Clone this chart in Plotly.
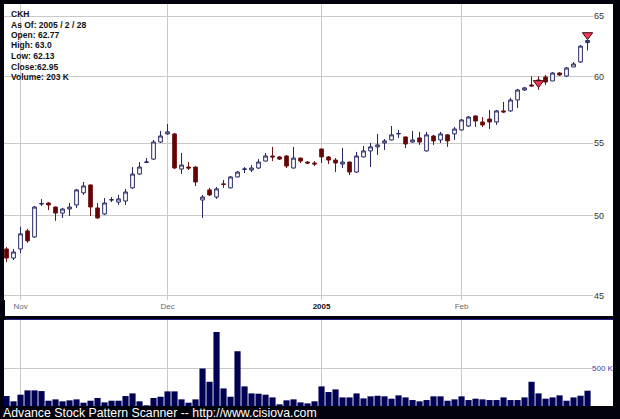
import plotly.graph_objects as go

# ---------------- data ----------------
dates = [
    "2004-10-28", "2004-10-29",
    "2004-11-01", "2004-11-02", "2004-11-03", "2004-11-04", "2004-11-05",
    "2004-11-08", "2004-11-09", "2004-11-10", "2004-11-11", "2004-11-12",
    "2004-11-15", "2004-11-16", "2004-11-17", "2004-11-18", "2004-11-19",
    "2004-11-22", "2004-11-23", "2004-11-24", "2004-11-26", "2004-11-29", "2004-11-30",
    "2004-12-01", "2004-12-02", "2004-12-03",
    "2004-12-06", "2004-12-07", "2004-12-08", "2004-12-09", "2004-12-10",
    "2004-12-13", "2004-12-14", "2004-12-15", "2004-12-16", "2004-12-17",
    "2004-12-20", "2004-12-21", "2004-12-22", "2004-12-23",
    "2004-12-27", "2004-12-28", "2004-12-29", "2004-12-30", "2004-12-31",
    "2005-01-03", "2005-01-04", "2005-01-05", "2005-01-06", "2005-01-07",
    "2005-01-10", "2005-01-11", "2005-01-12", "2005-01-13", "2005-01-14",
    "2005-01-18", "2005-01-19", "2005-01-20", "2005-01-21",
    "2005-01-24", "2005-01-25", "2005-01-26", "2005-01-27", "2005-01-28",
    "2005-01-31",
    "2005-02-01", "2005-02-02", "2005-02-03", "2005-02-04",
    "2005-02-07", "2005-02-08", "2005-02-09", "2005-02-10", "2005-02-11",
    "2005-02-14", "2005-02-15", "2005-02-16", "2005-02-17", "2005-02-18",
    "2005-02-22", "2005-02-23", "2005-02-24", "2005-02-25",
    "2005-02-28",
]

opens = [
    47.86, 47.29, 47.86, 49.01, 48.62, 50.77, 50.84, 50.57, 50.17, 50.44,
    50.71, 51.52, 52.06, 50.51, 50.11, 51.04, 50.90, 50.97, 51.86, 52.81,
    53.62, 53.86, 55.08, 55.67, 55.67, 53.16, 53.30, 53.30, 51.04, 51.72,
    51.24, 52.13, 51.86, 52.61, 53.14, 53.09, 53.23, 53.72, 54.08, 54.01,
    54.08, 53.23, 53.93, 53.65, 53.58, 54.58, 54.01, 53.79, 53.51, 53.65,
    52.95, 54.01, 54.44, 54.73, 55.01, 55.23, 55.67, 55.45, 55.08, 55.38,
    54.44, 55.52, 55.23, 55.60, 55.67, 55.96, 56.25, 57.00, 56.55, 56.77,
    56.55, 57.38, 57.38, 58.21, 58.98, 59.37, 59.76, 59.99, 59.68, 60.31,
    60.07, 60.79, 61.19, 62.77,
]
highs = [
    47.98, 47.86, 49.27, 49.14, 50.64, 51.10, 50.90, 50.60, 50.50, 50.84,
    51.79, 52.26, 52.10, 50.84, 51.17, 51.24, 51.38, 51.79, 53.30, 53.65,
    53.93, 55.23, 55.89, 56.40, 55.74, 54.30, 53.65, 53.35, 51.38, 51.86,
    51.92, 52.40, 52.67, 53.02, 53.30, 53.44, 53.86, 54.30, 54.73, 54.08,
    54.15, 54.73, 53.95, 53.72, 53.72, 54.60, 54.08, 53.93, 54.65, 53.68,
    54.37, 54.80, 55.01, 55.67, 55.30, 56.25, 55.96, 55.48, 55.89, 55.82,
    55.82, 55.60, 55.82, 55.64, 56.18, 56.77, 57.00, 57.04, 56.92, 57.45,
    57.45, 58.06, 58.37, 59.06, 59.21, 60.05, 60.05, 60.15, 60.39, 60.39,
    60.79, 61.19, 62.56, 63.0,
]
lows = [
    47.05, 47.17, 47.60, 48.24, 48.56, 50.64, 50.37, 49.66, 49.85, 49.98,
    50.51, 51.38, 49.98, 49.80, 50.04, 50.90, 50.71, 50.71, 51.79, 52.74,
    53.58, 53.79, 55.01, 55.60, 53.16, 52.81, 53.09, 51.99, 49.85, 51.31,
    51.11, 51.86, 51.82, 52.58, 52.88, 52.95, 53.16, 53.70, 53.72, 53.79,
    53.23, 53.20, 53.58, 53.51, 53.37, 53.58, 53.51, 52.95, 53.23, 52.74,
    52.88, 53.98, 53.30, 54.15, 54.51, 55.20, 55.38, 54.65, 55.01, 54.87,
    54.40, 54.87, 55.01, 54.73, 55.23, 55.92, 56.18, 56.18, 56.18, 56.03,
    56.33, 57.22, 57.30, 57.60, 58.90, 59.21, 58.98, 59.37, 59.68, 60.08,
    59.99, 60.79, 61.11, 62.13,
]
closes = [
    47.29, 47.67, 48.82, 48.37, 50.57, 50.80, 50.71, 50.17, 50.44, 50.57,
    51.72, 51.99, 50.57, 49.85, 50.84, 51.06, 51.11, 51.58, 52.81, 53.30,
    53.65, 55.08, 55.52, 55.82, 53.23, 53.44, 53.23, 52.26, 51.24, 51.38,
    51.79, 52.10, 52.61, 52.95, 53.16, 53.23, 53.65, 54.08, 54.01, 53.86,
    53.37, 53.93, 53.72, 53.58, 53.51, 54.01, 53.79, 53.58, 53.65, 52.95,
    54.08, 54.44, 54.73, 54.87, 55.16, 55.60, 55.70, 54.94, 55.23, 55.08,
    55.60, 55.16, 55.67, 55.16, 56.03, 56.70, 56.92, 56.62, 56.33, 56.55,
    57.38, 57.30, 58.21, 58.98, 59.14, 59.29, 59.45, 59.60, 60.31, 60.15,
    60.71, 61.03, 62.48, 62.95,
]
volume_k = [
    132, 62, 150, 207, 207, 198, 70, 88, 62, 75,
    88, 44, 70, 106, 48, 70, 70, 132, 167, 62,
    9, 106, 123, 194, 194, 88, 44, 88, 497, 321,
    981, 233, 123, 726, 260, 167, 163, 150, 114, 22,
    75, 88, 48, 35, 62, 260, 185, 220, 114, 114,
    167, 101, 128, 136, 128, 97, 141, 114, 79, 62,
    79, 128, 128, 70, 88, 128, 79, 97, 88, 79,
    79, 114, 79, 79, 114, 321, 167, 97, 114, 141,
    70, 114, 136, 203,
]

signal_dates = ["2005-02-16", "2005-02-28"]
signal_prices = [59.53, 63.40]

price_ticks = [45, 50, 55, 60, 65]
month_tick_dates = ["2004-11-01", "2004-12-01", "2005-01-03", "2005-02-01"]
month_tick_labels = ["Nov", "Dec", "<span style='color:#111111'><b>2005</b></span>", "Feb"]
volume_ticks = [500]
volume_tick_labels = ["500 K"]

symbol = "CKH"
as_of = "2005 / 2 / 28"

# ---------------- figure ----------------
W, H = 620, 419
def px_x(x):
    return x / W
def px_y(y):
    return 1 - y / H

GRID = "#c9c9c9"
FONT = "Arial, Liberation Sans, sans-serif"

fig = go.Figure()

fig.add_trace(go.Candlestick(
    x=dates, open=opens, high=highs, low=lows, close=closes,
    increasing=dict(line=dict(color="#262660", width=1), fillcolor="#ffffff"),
    decreasing=dict(line=dict(color="#6a1010", width=1), fillcolor="#660000"),
    whiskerwidth=0, xaxis="x", yaxis="y", hoverinfo="skip",
))

fig.add_trace(go.Scatter(
    x=signal_dates, y=signal_prices, mode="markers",
    marker=dict(symbol="triangle-down", size=9, color="#f03a5a",
                line=dict(color="#3a0a10", width=1)),
    xaxis="x", yaxis="y", hoverinfo="skip",
))

fig.add_trace(go.Bar(
    x=dates, y=volume_k, marker=dict(color="#000055", line=dict(width=0)),
    xaxis="x2", yaxis="y2", hoverinfo="skip",
))

xdom = [px_x(4), px_x(593)]
xrange = [-0.36, 83.78]

fig.update_layout(
    width=W, height=H, autosize=False,
    margin=dict(l=0, r=0, t=0, b=0, pad=0),
    paper_bgcolor="#02020c", plot_bgcolor="#ffffff",
    showlegend=False,
    boxgap=0.25, bargap=0.12,
    font=dict(family=FONT),
    xaxis=dict(
        domain=xdom, type="category", range=xrange, anchor="y",
        tickvals=month_tick_dates, ticktext=month_tick_labels,
        tickfont=dict(size=8, color="#6a6a6a", family=FONT),
        showgrid=True, gridcolor=GRID, gridwidth=1, ticks="",
        showline=False, zeroline=False, automargin=False,
        rangeslider=dict(visible=False), fixedrange=True,
    ),
    yaxis=dict(
        domain=[px_y(300), px_y(4)], type="log",
        range=[1.65084, 1.81976], side="right", anchor="x",
        tickvals=price_ticks, ticktext=[str(v) for v in price_ticks],
        tickfont=dict(size=9, color="#333333", family=FONT),
        showgrid=True, gridcolor=GRID, gridwidth=1, ticks="",
        showline=False, zeroline=False, automargin=False, fixedrange=True,
    ),
    xaxis2=dict(
        domain=xdom, type="category", range=xrange, anchor="y2",
        tickvals=month_tick_dates, showticklabels=False,
        showgrid=True, gridcolor=GRID, gridwidth=1, ticks="",
        showline=False, zeroline=False, automargin=False, fixedrange=True,
    ),
    yaxis2=dict(
        domain=[px_y(406), px_y(320)], range=[0, 1140], side="right", anchor="x2",
        tickvals=volume_ticks, ticktext=volume_tick_labels,
        tickfont=dict(size=8, color="#3c3ca8", family=FONT),
        ticklabelstandoff=-2,
        showgrid=True, gridcolor=GRID, gridwidth=1, ticks="",
        showline=False, zeroline=False, automargin=False, fixedrange=True,
    ),
    shapes=[
        dict(type="rect", xref="paper", yref="paper", layer="below",
             x0=px_x(5), x1=px_x(613), y0=px_y(316), y1=px_y(4),
             fillcolor="#ffffff", line=dict(width=0)),
        dict(type="rect", xref="paper", yref="paper", layer="below",
             x0=px_x(5), x1=px_x(613), y0=px_y(406), y1=px_y(320),
             fillcolor="#ffffff", line=dict(width=0)),
        dict(type="line", xref="paper", yref="paper", layer="below",
             x0=px_x(5), x1=px_x(613), y0=px_y(319.5), y1=px_y(319.5),
             line=dict(color="#22228a", width=1)),
    ],
)

info_lines = [
    symbol,
    f"As Of: {as_of}",
    f"Open: {opens[-1]}",
    f"High: {highs[-1]}",
    f"Low: {lows[-1]}",
    f"Close:{closes[-1]}",
    f"Volume: {volume_k[-1]} K",
]
for k, line in enumerate(info_lines):
    fig.add_annotation(
        text=f"<b>{line}</b>", xref="paper", yref="paper",
        x=px_x(10), y=px_y(14 + 10.5 * k), xanchor="left", yanchor="middle",
        showarrow=False, font=dict(size=8.5, color="#111111", family=FONT),
        borderpad=0,
    )

fig.add_annotation(
    text="Advance Stock Pattern Scanner -- http://www.cisiova.com",
    xref="paper", yref="paper", x=px_x(2), y=px_y(412.5),
    xanchor="left", yanchor="middle", showarrow=False,
    font=dict(size=12.3, color="#ffffff", family=FONT), borderpad=0,
)

fig.write_html(
    "out.html",
    config={"displayModeBar": False, "staticPlot": True},
    post_script="document.body.style.margin='0';document.body.style.overflow='hidden';",
)
